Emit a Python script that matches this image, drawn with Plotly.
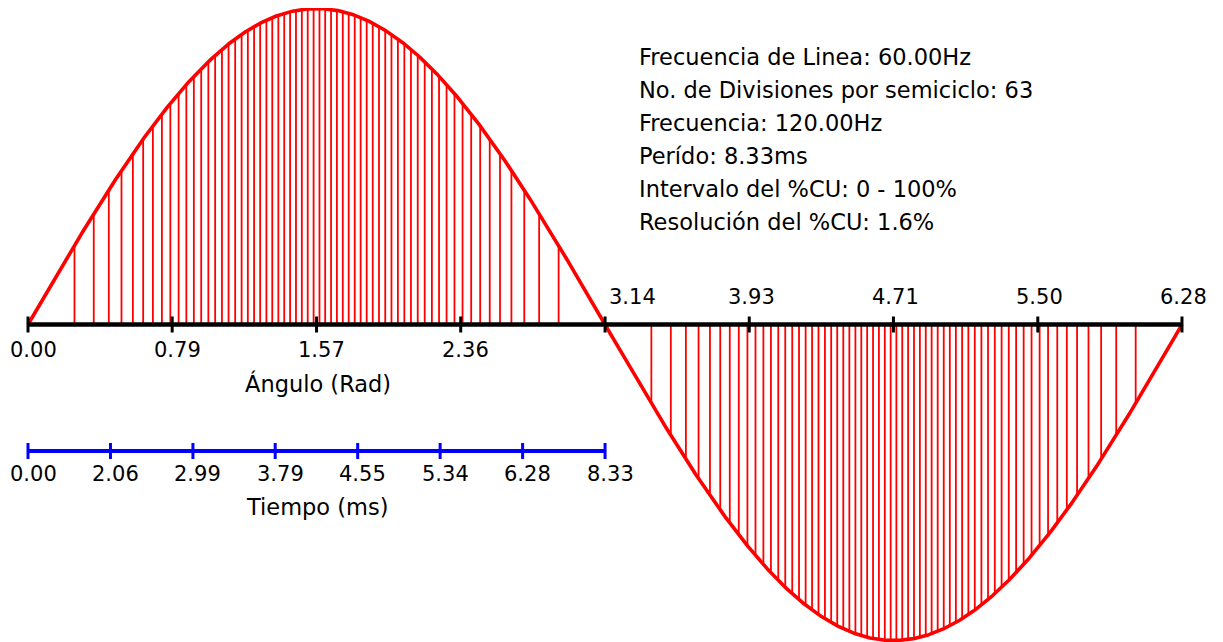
import numpy as np
import plotly.graph_objects as go

# ---------------- data ----------------
ANGLE_TICKS = [0.0, 0.785, 1.571, 2.356, 3.142, 3.927, 4.712, 5.498, 6.283]
ANGLE_LABELS = ["0.00", "0.79", "1.57", "2.36", "3.14", "3.93", "4.71", "5.50", "6.28"]

TIME_TICKS = [0.0, 0.449, 0.898, 1.346, 1.795, 2.244, 2.693, 3.142]
TIME_LABELS = ["0.00", "2.06", "2.99", "3.79", "4.55", "5.34", "6.28", "8.33"]

STEM_ANGLES_POS = [
    0.253, 0.358, 0.440, 0.509, 0.571, 0.627, 0.680, 0.729, 0.775, 0.820,
    0.862, 0.903, 0.943, 0.982, 1.019, 1.056, 1.092, 1.128, 1.163, 1.197,
    1.231, 1.264, 1.298, 1.330, 1.363, 1.395, 1.427, 1.459, 1.491, 1.523,
    1.555, 1.587, 1.618, 1.650, 1.682, 1.714, 1.746, 1.779, 1.811, 1.844,
    1.877, 1.911, 1.945, 1.979, 2.014, 2.049, 2.085, 2.122, 2.160, 2.199,
    2.238, 2.279, 2.322, 2.366, 2.413, 2.462, 2.514, 2.570, 2.632, 2.702,
    2.783, 2.889,
]
STEM_ANGLES_NEG = [
    3.394, 3.500, 3.582, 3.651, 3.713, 3.769, 3.821, 3.870, 3.917, 3.961,
    4.004, 4.045, 4.085, 4.123, 4.161, 4.198, 4.234, 4.269, 4.304, 4.339,
    4.373, 4.406, 4.439, 4.472, 4.505, 4.537, 4.569, 4.601, 4.633, 4.665,
    4.697, 4.728, 4.760, 4.792, 4.824, 4.856, 4.888, 4.920, 4.953, 4.986,
    5.019, 5.052, 5.086, 5.120, 5.155, 5.191, 5.227, 5.264, 5.301, 5.340,
    5.380, 5.421, 5.464, 5.508, 5.554, 5.604, 5.656, 5.712, 5.774, 5.843,
    5.925, 6.031,
]

INFO_LINES = [
    "Frecuencia de Linea: 60.00Hz",
    "No. de Divisiones por semiciclo: 63",
    "Frecuencia: 120.00Hz",
    "Perído: 8.33ms",
    "Intervalo del %CU: 0 - 100%",
    "Resolución del %CU: 1.6%",
]
ANGLE_TITLE = "Ángulo (Rad)"
TIME_TITLE = "Tiempo (ms)"

# ---------------- layout constants ----------------
W, H = 1223, 642
OFF = 8                            # default page margin of the html body
FONT = "DejaVu Sans"
FS_TICK = 21
FS_TEXT = 22.5
RED = "#ff0000"
BLUE = "#0000ff"
TWO_PI = 2 * np.pi
X0_PX = 28 - OFF                   # figure pixel of x=0
X1_PX = 1182 - OFF                 # figure pixel of x=2pi
PX_PER_X = (X1_PX - X0_PX) / TWO_PI
PX_PER_Y = 316.0
ZERO_PX = 324.5 - OFF
X_RANGE = [-X0_PX / PX_PER_X, TWO_PI + (W - X1_PX) / PX_PER_X]
Y_RANGE = [-(H - ZERO_PX) / PX_PER_Y, ZERO_PX / PX_PER_Y]
TIME_AXIS_Y = -(451 - 324.5) / PX_PER_Y
TICK_HALF = 8 / PX_PER_Y


def px(x):
    return (x - OFF) / W


def py(y):
    return 1 - (y - OFF) / H


fig = go.Figure()

# stems
sx, sy = [], []
for a in STEM_ANGLES_POS + STEM_ANGLES_NEG:
    sx += [a, a, None]
    sy += [0, float(np.sin(a)), None]
fig.add_trace(go.Scatter(x=sx, y=sy, mode="lines",
                         line=dict(color=RED, width=1.8), hoverinfo="skip"))

# sine wave
cx = np.linspace(0, TWO_PI, 1200)
fig.add_trace(go.Scatter(x=cx, y=np.sin(cx), mode="lines",
                         line=dict(color=RED, width=3.6), hoverinfo="skip"))

# black angle axis
fig.add_trace(go.Scatter(x=[ANGLE_TICKS[0], ANGLE_TICKS[-1]], y=[0, 0], mode="lines",
                         line=dict(color="black", width=4.5), hoverinfo="skip"))
tx, ty = [], []
for t in ANGLE_TICKS:
    tx += [t, t, None]
    ty += [-TICK_HALF, TICK_HALF, None]
fig.add_trace(go.Scatter(x=tx, y=ty, mode="lines",
                         line=dict(color="black", width=3), hoverinfo="skip"))

# blue time axis
fig.add_trace(go.Scatter(x=[TIME_TICKS[0], TIME_TICKS[-1]], y=[TIME_AXIS_Y] * 2, mode="lines",
                         line=dict(color=BLUE, width=4), hoverinfo="skip"))
bx, by = [], []
for t in TIME_TICKS:
    bx += [t, t, None]
    by += [TIME_AXIS_Y - TICK_HALF, TIME_AXIS_Y + TICK_HALF, None]
fig.add_trace(go.Scatter(x=bx, y=by, mode="lines",
                         line=dict(color=BLUE, width=3), hoverinfo="skip"))

annotations = []
tfont = dict(family=FONT, size=FS_TICK, color="black")
font = dict(family=FONT, size=FS_TEXT, color="black")
for t, lab in zip(ANGLE_TICKS, ANGLE_LABELS):
    if t < 3.0:
        annotations.append(dict(x=t, y=0, xref="x", yref="y", text=lab, showarrow=False,
                                xanchor="center", yanchor="middle", xshift=5, yshift=-25,
                                font=tfont))
    elif t < 3.5:
        annotations.append(dict(x=t, y=0, xref="x", yref="y", text=lab, showarrow=False,
                                xanchor="left", yanchor="middle", xshift=2, yshift=28,
                                font=tfont))
    else:
        annotations.append(dict(x=t, y=0, xref="x", yref="y", text=lab, showarrow=False,
                                xanchor="center", yanchor="middle", xshift=2, yshift=28,
                                font=tfont))
for t, lab in zip(TIME_TICKS, TIME_LABELS):
    annotations.append(dict(x=t, y=TIME_AXIS_Y, xref="x", yref="y", text=lab, showarrow=False,
                            xanchor="center", yanchor="middle", xshift=5, yshift=-22.5,
                            font=tfont))
annotations.append(dict(x=px(317.5), y=py(383), xref="paper", yref="paper",
                        text=ANGLE_TITLE, showarrow=False, xanchor="center",
                        yanchor="middle", font=font))
annotations.append(dict(x=px(317), y=py(507), xref="paper", yref="paper",
                        text=TIME_TITLE, showarrow=False, xanchor="center",
                        yanchor="middle", font=font))
for i, line in enumerate(INFO_LINES):
    annotations.append(dict(x=px(637), y=py(57 + 33 * i), xref="paper", yref="paper",
                            text=line, showarrow=False, xanchor="left", yanchor="middle",
                            font=font))

fig.update_layout(
    width=W, height=H,
    margin=dict(l=0, r=0, t=0, b=0),
    paper_bgcolor="white", plot_bgcolor="white",
    showlegend=False,
    xaxis=dict(range=X_RANGE, visible=False, fixedrange=True),
    yaxis=dict(range=Y_RANGE, visible=False, fixedrange=True),
    annotations=annotations,
)

fig.write_html("out.html")
